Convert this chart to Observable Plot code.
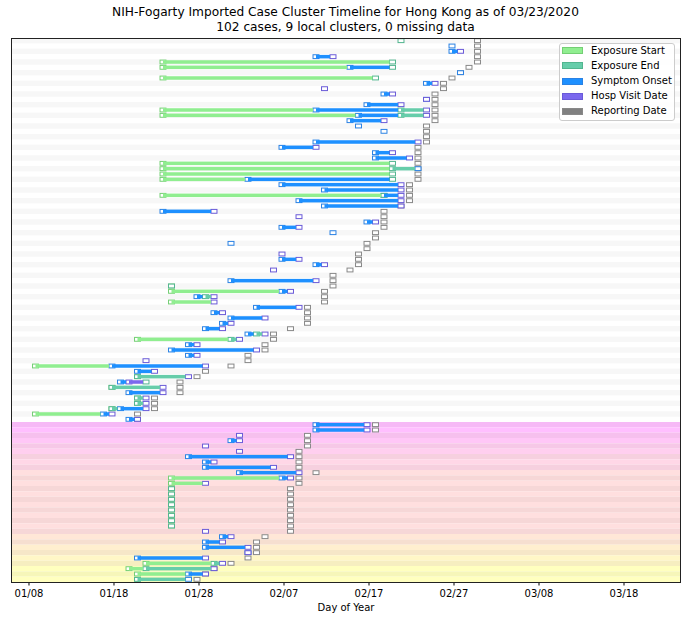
<!DOCTYPE html>
<html><head><meta charset="utf-8">
<script src="https://cdn.jsdelivr.net/npm/d3@7"></script>
<script src="https://cdn.jsdelivr.net/npm/@observablehq/plot@0.6"></script>
<style>
body{margin:0;background:#fff;font-family:"DejaVu Sans",sans-serif;}
#wrap{position:relative;width:687px;height:620px;overflow:hidden;}
#title{position:absolute;top:5px;left:11px;width:669px;text-align:center;font-size:12.2px;line-height:15px;color:#000;}
#legend{position:absolute;left:559px;top:43px;width:116px;height:78px;box-sizing:border-box;border:1px solid #cccccc;border-radius:3px;background:rgba(255,255,255,0.85);}
.lp{position:absolute;left:562px;width:21px;height:7px;box-sizing:border-box;border:1px solid;}
.lt{position:absolute;left:591px;font-size:10px;line-height:12px;color:#000;white-space:nowrap;}
#chart svg{position:absolute;left:0;top:0;}
</style></head><body>
<div id="wrap">
<div id="chart"></div>
<div id="title">NIH-Fogarty Imported Case Cluster Timeline for Hong Kong as of 03/23/2020<br>102 cases, 9 local clusters, 0 missing data</div>
<div id="legend"></div>
</div>
<script>
const _ = null;
// one entry per case, top row first
const expStart = [
 _,_,_,_,"01/24","01/24",_,"01/24",_,_,
 _,_,_,"01/24","01/24",_,_,_,_,_,
 _,_,_,"01/24","01/24","01/24","01/24",_,_,"01/24",
 _,_,_,_,_,_,_,_,_,_,
 _,_,_,_,_,_,"01/25","01/25",_,"01/25",
 _,_,_,_,_,_,"01/21",_,_,_,
 _,"01/09",_,"01/21",_,"01/18",_,"01/21","01/21","01/18",
 "01/09",_,_,_,_,_,_,_,_,_,
 _,_,"01/25","01/25","01/25","01/25","01/25","01/25","01/25","01/25",
 "01/25","01/25",_,_,_,_,_,_,"01/22","01/20",
 "01/21","01/21"];
const expEnd = [
 "02/21",_,_,_,"02/20","02/20",_,"02/18",_,_,
 _,_,_,"02/21","02/21",_,_,_,_,_,
 _,_,_,"02/20","02/20","02/20","02/20",_,_,"02/19",
 _,_,_,_,_,_,_,_,_,_,
 _,_,_,_,_,_,"01/25",_,"01/29",_,
 _,_,_,_,_,"02/04","02/01",_,_,_,
 _,_,_,"01/21","01/22","01/18",_,"01/21","01/21","01/18",
 _,_,_,_,_,_,_,_,_,_,
 _,_,_,_,"01/25","01/25","01/25","01/25","01/25","01/25",
 "01/25","01/25",_,_,_,_,_,_,"01/30","01/22",
 _,"01/21"];
const onset = [
 _,"02/27","02/27","02/11",_,"02/15","02/28",_,"02/24",_,
 "02/19","02/24","02/17","02/11","02/16","02/15","02/16","02/19",_,"02/11",
 "02/07","02/18","02/18",_,"02/23",_,"02/03","02/07","02/12","02/19",
 "02/09","02/12","01/24",_,"02/17","02/07","02/13",_,"02/01",_,
 _,"02/07","02/11",_,_,"02/01",_,"02/07","01/28",_,
 "02/04","01/30","02/01","01/31","01/29","02/03",_,"01/27","01/25","01/27",
 _,"01/18","01/21",_,"01/19",_,"01/20",_,_,"01/19",
 "01/17","01/20","02/11","02/11",_,"02/01",_,_,"01/27","01/29",
 "01/29","02/02","02/07",_,_,_,_,_,_,_,
 _,_,_,"01/31","01/29","01/29","02/03","01/21",_,_,
 "01/27","01/27"];
const hosp = [
 _,_,"02/28","02/13",_,_,_,_,"02/25","02/12",
 "02/20","02/24","02/21","02/24","02/24","02/19",_,_,_,"02/23",
 "02/11","02/20","02/22",_,_,_,_,"02/21","02/21","02/21",
 "02/21","02/21","01/30","02/09","02/18","02/09",_,_,_,_,
 "02/07","02/09","02/12","02/06",_,"02/11",_,"02/08","01/30","01/30",
 "02/09","01/31","02/05","02/01","01/31","02/05","02/02","01/28","02/04","01/28",
 "01/22","01/29","01/23","01/27","01/20","01/24","01/24","01/22","01/22","01/22",
 "01/18","01/21","02/17","02/17","02/02","02/02","01/29","02/02","02/08","01/30",
 "02/06","02/09","02/08","01/29",_,_,_,_,_,_,
 _,_,"01/29","02/01","01/31","02/03","02/03","01/29","01/31","01/30",
 "01/29",_];
const report = [
 "03/01","03/01","03/01","03/01","03/01","02/29","02/28","02/27","02/26","02/26",
 "02/25","02/25","02/25","02/25","02/25","02/25","02/24","02/24","02/24","02/24",
 "02/23","02/23","02/23","02/23","02/23","02/23","02/23","02/22","02/22","02/22",
 "02/22","02/21","02/19","02/19","02/19","02/19","02/18","02/18","02/17","02/17",
 "02/16","02/16","02/16","02/15","02/13","02/13","02/13","02/12","02/12","02/12",
 "02/10","02/10","02/10","02/10","02/08","02/06","02/06","02/05","02/05","02/03",
 "02/03","02/01","01/29","01/28","01/26","01/26","01/26","01/23","01/23","01/23",
 "01/21","01/21","02/18","02/18","02/10","02/10","02/10","02/09","02/09","02/09",
 "02/09","02/11","02/09","02/09","02/08","02/08","02/08","02/08","02/08","02/08",
 "02/08","02/08","02/08","02/05","02/04","02/04","02/04","02/03","02/01","01/30",
 "01/29","01/28"];
// imported cases on top, then the 9 local clusters (sizes, top to bottom)
const nImported = 72;
const clusterSizes = [2,2,2,3,12,2,2,2,3];
const tickLabels = ["01/08","01/18","01/28","02/07","02/17","02/27","03/08","03/18"];
const seriesNames = ["Exposure Start","Exposure End","Symptom Onset","Hosp Visit Date","Reporting Date"];
const seriesFill = ["#90ee90","#66cdaa","#1e90ff","#7b68ee","#808080"];
const seriesStroke = ["#74cf74","#52b58f","#2a82e4","#6a5ad8","#888888"];

const parse = s => { const [m,d] = s.split("/").map(Number); return new Date(Date.UTC(2020, m-1, d)); };
const DAY = 864e5, HW = 0.35, MH = 0.36, BH = 0.33, DX = -1.5;
const nRows = report.length;
const xDomain = [new Date(Date.UTC(2020,0,8) - 2.0588*DAY), new Date(Date.UTC(2020,0,8) + 76.647*DAY)];
const tickDates = tickLabels.map(parse);

const clusterOf = [];
{ let r = nImported; clusterSizes.forEach((s,k)=>{ for(let j=0;j<s;j++) clusterOf[r++] = k; }); }
function bandFill(i){
  let c;
  if (i < nImported) { if (i % 2) return null; c = [247,247,247]; }
  else {
    const t = clusterOf[i] / (clusterSizes.length - 1);
    c = [255, 191.25 + 63.75*t, 255 - 63.75*t];
    if (i % 2 === 0) c = c.map(v => v*0.965);
  }
  return `rgb(${c.map(Math.round).join(",")})`;
}
const bands = d3.range(nRows).filter(i => bandFill(i));

const series = [expStart, expEnd, onset, hosp, report];
const events = [];
series.forEach((vals,k) => vals.forEach((v,i) => { if (v) events.push({row:i, type:k, date:parse(v)}); }));
const bars = [];
d3.group(events, e => e.row).forEach(evs => {
  evs.sort((a,b) => (a.date - b.date) || (a.type - b.type));
  for (let j = 0; j < evs.length-1; j++) {
    const a = evs[j], b = evs[j+1];
    if (a.type === 4 || b.type === 4) continue;
    if (+b.date > +a.date) bars.push({row:a.row, x1:a.date, x2:new Date(+b.date - HW*DAY), fill:seriesFill[a.type]});
  }
});
const drawOrder = [4,2,3,0,1];
const markers = drawOrder.flatMap(k => events.filter(e => e.type === k));

const chart = Plot.plot({
  width: 687, height: 620,
  marginTop: 38, marginBottom: 38, marginLeft: 11, marginRight: 7,
  x: {type: "utc", domain: xDomain},
  y: {domain: [nRows - 0.5, -0.5], axis: null},
  color: {type: "identity"},
  style: {fontFamily: "DejaVu Sans, sans-serif", fontSize: "10px", color: "#000", background: "transparent"},
  marks: [
    Plot.rect(bands, {x1: () => xDomain[0], x2: () => xDomain[1], y1: i => i - 0.5, y2: i => i + 0.5, fill: i => bandFill(i)}),
    Plot.rect(markers, {x1: e => new Date(+e.date - HW*DAY), x2: e => new Date(+e.date + HW*DAY),
      y1: e => e.row - MH, y2: e => e.row + MH, fill: "white", stroke: e => seriesStroke[e.type], strokeWidth: 1, dx: DX}),
    Plot.rect(bars, {x1: "x1", x2: "x2", y1: d => d.row - BH, y2: d => d.row + BH, fill: "fill", dx: DX}),
    Plot.axisX({ticks: tickDates, tickFormat: d3.utcFormat("%m/%d"), tickSize: 3.5, tickPadding: 3.5, label: null, fontSize: 10}),
    Plot.text(["Day of Year"], {text: d => d, frameAnchor: "bottom", dy: 25, lineAnchor: "middle", fontSize: 10}),
    Plot.frame({stroke: "#222", strokeWidth: 1})
  ]
});
document.getElementById("chart").appendChild(chart);

const wrap = document.getElementById("wrap");
seriesNames.forEach((name, k) => {
  const cy = 50.7 + k*15.15;
  const p = document.createElement("div");
  p.className = "lp"; p.style.top = (cy - 3.5) + "px";
  p.style.background = seriesFill[k]; p.style.borderColor = seriesStroke[k];
  wrap.appendChild(p);
  const t = document.createElement("div");
  t.className = "lt"; t.style.top = (cy - 6) + "px"; t.textContent = name;
  wrap.appendChild(t);
});
</script>
</body></html>
